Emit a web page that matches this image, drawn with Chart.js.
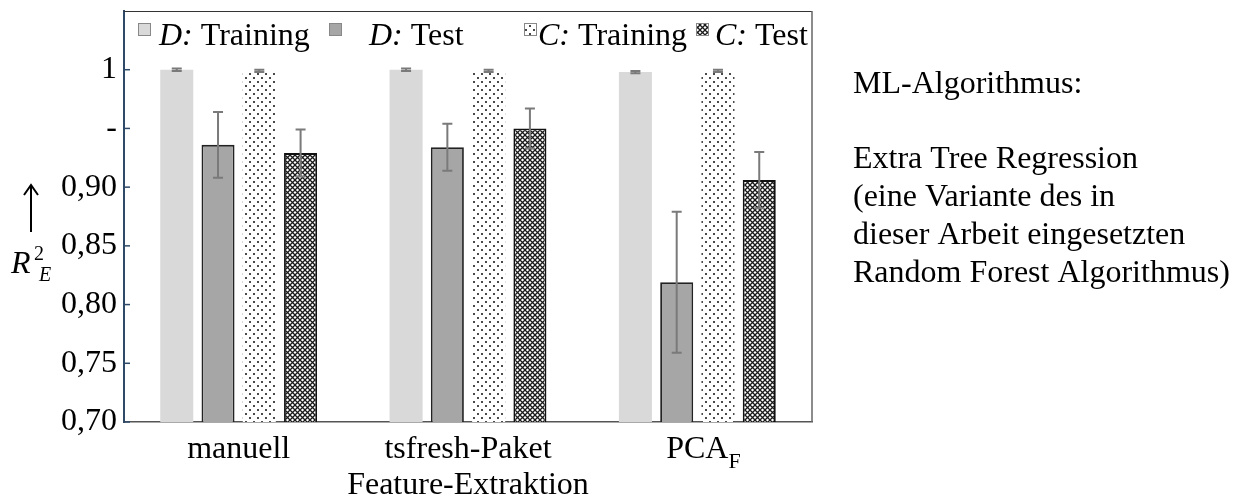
<!DOCTYPE html>
<html>
<head>
<meta charset="utf-8">
<script src="https://cdn.jsdelivr.net/npm/chart.js@4.4.0/dist/chart.umd.min.js"></script>
<style>
  html, body { margin: 0; padding: 0; background: #fff; }
  #wrap { width: 1236px; height: 500px; }
</style>
</head>
<body>
<div id="wrap"><canvas id="chart" width="1236" height="500"></canvas></div>
<script>
// Daten
const categories = ['manuell', 'tsfresh-Paket', 'PCA'];
const categorySubs = ['', '', 'F'];
const seriesPrefix = ['D', 'D', 'C', 'C'];
const seriesNames = ['Training', 'Test', 'Training', 'Test'];

const dTraining = [1.000, 1.000, 0.998];
const dTrainingErr = [0.001, 0.001, 0.001];
const dTest = [0.936, 0.934, 0.819];
const dTestErr = [0.028, 0.020, 0.060];
const cTraining = [0.999, 0.999, 0.999];
const cTrainingErr = [0.001, 0.001, 0.001];
const cTest = [0.929, 0.950, 0.906];
const cTestErr = [0.020, 0.017, 0.024];

const yTicks = [0.70, 0.75, 0.80, 0.85, 0.90, 0.95, 1.00];
const yTickLabels = ['0,70', '0,75', '0,80', '0,85', '0,90', '-', '1'];

const noteLines = ['ML-Algorithmus:', '', 'Extra Tree Regression', '(eine Variante des in',
    'dieser Arbeit eingesetzten', 'Random Forest Algorithmus)'];

const SERIF = "'Liberation Serif', 'Times New Roman', serif";
const FS = 32;

// Muster fuer die C-Balken
function makePattern(size, draw) {
    const c = document.createElement('canvas');
    c.width = size; c.height = size;
    const g = c.getContext('2d');
    g.fillStyle = '#fff';
    g.fillRect(0, 0, size, size);
    draw(g);
    return g.createPattern(c, 'repeat');
}
const dotPattern = makePattern(8, g => {
    g.fillStyle = '#4a4a4a';
    g.fillRect(1, 1, 2, 2);
    g.fillRect(5, 5, 2, 2);
});
const crossPattern = makePattern(5, g => {
    g.strokeStyle = '#1a1a1a';
    g.lineWidth = 1.3;
    g.beginPath();
    g.moveTo(0, 0); g.lineTo(5, 5);
    g.moveTo(5, 0); g.lineTo(0, 5);
    g.stroke();
});

function yLabel(v) {
    const i = yTicks.findIndex(t => Math.abs(t - v) < 1e-6);
    return i >= 0 ? yTickLabels[i] : '';
}

const extras = {
    id: 'extras',
    afterDatasetsDraw(chart) {
        const ctx = chart.ctx;
        const y = chart.scales.y;
        ctx.save();
        ctx.strokeStyle = '#7a7a7a';
        ctx.lineWidth = 2;
        chart.data.datasets.forEach((ds, di) => {
            chart.getDatasetMeta(di).data.forEach((bar, i) => {
                const top = y.getPixelForValue(ds.data[i] + ds.errors[i]);
                const bot = y.getPixelForValue(ds.data[i] - ds.errors[i]);
                ctx.beginPath();
                ctx.moveTo(bar.x, top); ctx.lineTo(bar.x, bot);
                ctx.moveTo(bar.x - 5, top); ctx.lineTo(bar.x + 5, top);
                ctx.moveTo(bar.x - 5, bot); ctx.lineTo(bar.x + 5, bot);
                ctx.stroke();
            });
        });
        ctx.restore();
    },
    afterDraw(chart) {
        const ctx = chart.ctx;
        const a = chart.chartArea;
        const y = chart.scales.y;
        const x = chart.scales.x;
        ctx.save();

        // Rahmen oben und rechts
        ctx.strokeStyle = '#333';
        ctx.lineWidth = 1;
        ctx.beginPath();
        ctx.moveTo(a.left, a.top + 0.5); ctx.lineTo(a.right, a.top + 0.5);
        ctx.stroke();
        ctx.strokeStyle = '#666';
        ctx.lineWidth = 1.5;
        ctx.beginPath();
        ctx.moveTo(a.right, a.top); ctx.lineTo(a.right, a.bottom);
        ctx.stroke();

        // Teilstriche innen
        ctx.strokeStyle = '#2f4a68';
        ctx.lineWidth = 1.5;
        yTicks.forEach(t => {
            const py = y.getPixelForValue(t);
            ctx.beginPath();
            ctx.moveTo(a.left, py); ctx.lineTo(a.left + 6, py);
            ctx.stroke();
        });

        // Legende
        const boxX = [138, 329, 524, 696];
        const textX = [159, 369, 538, 715];
        ctx.textBaseline = 'alphabetic';
        chart.data.datasets.forEach((ds, i) => {
            ctx.fillStyle = ds.backgroundColor;
            ctx.fillRect(boxX[i], 23, 12, 12);
            ctx.strokeStyle = '#888';
            ctx.lineWidth = 1;
            ctx.strokeRect(boxX[i] + 0.5, 23.5, 12, 12);
            ctx.fillStyle = '#000';
            ctx.font = 'italic ' + FS + 'px ' + SERIF;
            const pre = seriesPrefix[i] + ':';
            ctx.fillText(pre, textX[i], 45);
            const w = ctx.measureText(pre).width;
            ctx.font = FS + 'px ' + SERIF;
            ctx.fillText(' ' + seriesNames[i], textX[i] + w, 45);
        });

        // Index an Kategorienamen
        ctx.font = FS + 'px ' + SERIF;
        categories.forEach((c, i) => {
            if (!categorySubs[i]) return;
            const w = ctx.measureText(c).width;
            const px = x.getPixelForValue(i);
            ctx.font = '22px ' + SERIF;
            ctx.textAlign = 'left';
            ctx.fillText(categorySubs[i], px + w / 2, 468);
            ctx.font = FS + 'px ' + SERIF;
        });

        // y-Achsentitel: Pfeil und R²_E
        ctx.strokeStyle = '#000';
        ctx.lineWidth = 2;
        ctx.beginPath();
        ctx.moveTo(31, 232); ctx.lineTo(31, 185);
        ctx.moveTo(24, 195); ctx.lineTo(31, 185); ctx.lineTo(38, 195);
        ctx.stroke();
        ctx.fillStyle = '#000';
        ctx.textAlign = 'left';
        ctx.font = 'italic ' + FS + 'px ' + SERIF;
        ctx.fillText('R', 11, 273);
        ctx.font = '20px ' + SERIF;
        ctx.fillText('2', 34, 260);
        ctx.font = 'italic 20px ' + SERIF;
        ctx.fillText('E', 39, 281);

        // Text rechts
        ctx.font = FS + 'px ' + SERIF;
        noteLines.forEach((line, i) => {
            if (line) ctx.fillText(line, 853, 93 + i * 37.7);
        });
        ctx.restore();
    }
};

const config = {
    type: 'bar',
    data: {
        labels: categories,
        datasets: [
            { label: 'D: Training', data: dTraining, errors: dTrainingErr, backgroundColor: '#d9d9d9', borderWidth: 0 },
            { label: 'D: Test', data: dTest, errors: dTestErr, backgroundColor: '#a6a6a6', borderColor: '#222', borderWidth: 1.8 },
            { label: 'C: Training', data: cTraining, errors: cTrainingErr, backgroundColor: dotPattern, borderWidth: 0 },
            { label: 'C: Test', data: cTest, errors: cTestErr, backgroundColor: crossPattern, borderColor: '#111', borderWidth: 1.8 }
        ]
    },
    options: {
        responsive: false,
        animation: false,
        devicePixelRatio: 1,
        layout: { padding: { top: 11, right: 424, left: 0, bottom: 0 } },
        datasets: { bar: { categoryPercentage: 0.72, barPercentage: 0.8 } },
        plugins: { legend: { display: false }, tooltip: { enabled: false } },
        scales: {
            x: {
                grid: { display: false, drawTicks: false },
                border: { display: true, color: '#555', width: 1.5 },
                ticks: { font: { family: SERIF, size: FS }, color: '#000', padding: 8, maxRotation: 0, autoSkip: false },
                title: { display: true, text: 'Feature-Extraktion', font: { family: SERIF, size: FS }, color: '#000', padding: { top: 0, bottom: -5 } },
                afterFit(s) { s.height = 78; s.paddingLeft = 0; s.paddingRight = 0; }
            },
            y: {
                min: 0.7,
                max: 1.05,
                grid: { display: false, drawTicks: false },
                border: { display: true, color: '#2f4a68', width: 2 },
                ticks: { stepSize: 0.05, font: { family: SERIF, size: FS }, color: '#000', padding: 7, callback: v => yLabel(v) },
                afterFit(s) { s.width = 124; s.paddingTop = 0; s.paddingBottom = 0; }
            }
        }
    },
    plugins: [extras]
};

new Chart(document.getElementById('chart').getContext('2d'), config);
</script>
</body>
</html>
